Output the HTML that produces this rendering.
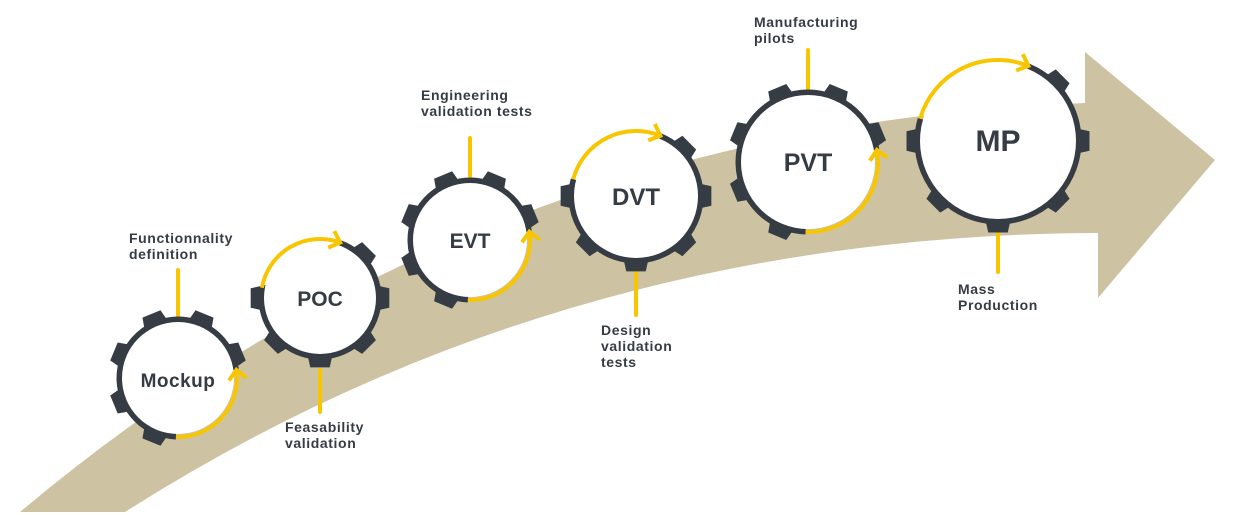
<!DOCTYPE html>
<html><head><meta charset="utf-8"><style>
html,body{margin:0;padding:0;background:#fff;}
svg{display:block;}
text{font-family:"Liberation Sans",sans-serif;font-weight:bold;fill:#363c44;}
</style></head><body>
<svg id="s" width="1237" height="515" viewBox="0 0 1237 515" xmlns="http://www.w3.org/2000/svg">
<path d="M20,512 Q480,125 1085,103 L1085,52 L1215,160 L1098,298 L1098,233 Q560,235 125,512 Z" fill="#cdc3a3"/>
<g stroke="#f8c600" stroke-width="4" stroke-linecap="round">
<line x1="178" y1="270" x2="178" y2="318"/>
<line x1="320" y1="370" x2="320" y2="412"/>
<line x1="470" y1="138" x2="470" y2="176"/>
<line x1="636" y1="270" x2="636" y2="315"/>
<line x1="808" y1="50" x2="808" y2="90"/>
<line x1="998" y1="232" x2="998" y2="272"/>
</g>
<g id="gears"></g>
<g font-size="14" letter-spacing="0.6">
<text x="129" y="243">Functionnality</text><text x="129" y="259">definition</text>
<text x="285" y="432">Feasability</text><text x="285" y="448">validation</text>
<text x="421" y="100">Engineering</text><text x="421" y="116">validation tests</text>
<text x="601" y="335">Design</text><text x="601" y="351">validation</text><text x="601" y="367">tests</text>
<text x="754" y="27">Manufacturing</text><text x="754" y="43">pilots</text>
<text x="958" y="294">Mass</text><text x="958" y="310">Production</text>
</g>
<g text-anchor="middle">
<text x="178" y="387" font-size="19" letter-spacing="0.5">Mockup</text>
<text x="320" y="306" font-size="21">POC</text>
<text x="470" y="248" font-size="21">EVT</text>
<text x="636" y="205" font-size="24">DVT</text>
<text x="808" y="171" font-size="25">PVT</text>
<text x="998" y="151" font-size="30">MP</text>
</g>
</svg>
<script>
var NS="http://www.w3.org/2000/svg",G=document.getElementById("gears");
function el(t,a){var e=document.createElementNS(NS,t);for(var k in a)e.setAttribute(k,a[k]);G.appendChild(e);return e;}
function P(cx,cy,r,d){var a=d*Math.PI/180;return [cx+r*Math.cos(a),cy+r*Math.sin(a)];}
function inGap(a,g0,g1){var lo=Math.min(g0,g1),hi=Math.max(g0,g1);a=((a%360)+360)%360;for(var k=-1;k<=1;k++){var b=a+360*k;if(b>=lo&&b<=hi)return true;}return false;}
function gear(cx,cy,r,off,a0,a1){
  var rr=r+2.5,to=r+14;
  for(var i=0;i<8;i++){var a=off+45*i;if(inGap(a,a0,a1))continue;
    var hb=750/r,ht=560/to;
    var p=[P(cx,cy,r,a-hb),P(cx,cy,to,a-ht),P(cx,cy,to,a+ht),P(cx,cy,r,a+hb)];
    el("polygon",{points:p.map(function(q){return q.join(",")}).join(" "),fill:"#363c44"});}
  var lo=Math.min(a0,a1),hi=Math.max(a0,a1);
  var s=P(cx,cy,rr,hi),e=P(cx,cy,rr,lo+360),large=(360-(hi-lo))>180?1:0;
  el("path",{d:"M"+s+" A"+rr+","+rr+" 0 "+large+" 1 "+e,fill:"none",stroke:"#363c44","stroke-width":6});
  el("circle",{cx:cx,cy:cy,r:r,fill:"#fff"});
  var ra=r+3,ps=P(cx,cy,ra,a0),pe=P(cx,cy,ra,a1),sw=a1>a0?1:0;
  el("path",{d:"M"+ps+" A"+ra+","+ra+" 0 0 "+sw+" "+pe,fill:"none",stroke:"#f8c600","stroke-width":4});
  var t=a1*Math.PI/180,dx,dy;
  if(sw){dx=-Math.sin(t);dy=Math.cos(t);}else{dx=Math.sin(t);dy=-Math.cos(t);}
  var L=13,c=Math.cos(0.75),sn=Math.sin(0.75);
  var b1=[pe[0]-L*(dx*c-dy*sn),pe[1]-L*(dy*c+dx*sn)],b2=[pe[0]-L*(dx*c+dy*sn),pe[1]-L*(dy*c-dx*sn)];
  el("polyline",{points:b1+" "+pe+" "+b2,fill:"none",stroke:"#f8c600","stroke-width":4});
}
gear(178,378,56,22.5,92,-8);
gear(320,298,56,0,190,290);
gear(470,240,57,22.5,92,-8);
gear(636,196,62,0,195,292);
gear(808,162,67,22.5,92,-10);
gear(998,141,78,0,196,292);
</script>
</body></html>
